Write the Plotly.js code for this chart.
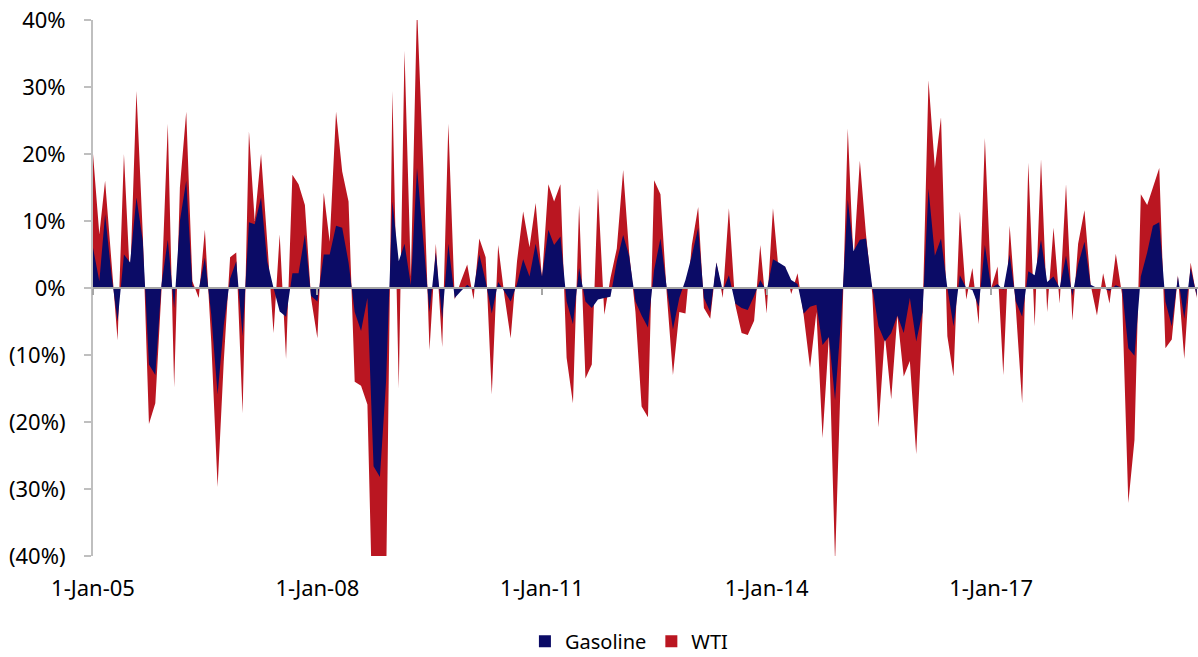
<!DOCTYPE html>
<html>
<head>
<meta charset="utf-8">
<script src="https://cdn.plot.ly/plotly-3.0.1.min.js"></script>
<style>html,body{margin:0;padding:0;background:#fff;}#chart{width:1198px;height:657px;}</style>
</head>
<body>
<div id="chart"></div>
<script>
// Monthly % change, starting Jan 2005
const startYear = 2005;
const wti = [
  20, 8, 16, 4, -7.8, 20, 1, 29.4, 8, -20.3, -17.2, -0.5,
  24.5, -14.8, 15, 26.3, 1, -1.5, 8.7, -8, -29.7, -11, 4.6, 5.3,
  -18.7, 23.4, 10, 20, 7, -6.7, 8, -10.6, 16.9, 15.5, 12.4, -1.5,
  -7.5, 14.2, 6.9, 26.3, 17.4, 12.9, -14, -14.6, -17.4, -55, -50, -45,
  29.4, -15, 35.4, 1.7, 42, 18, -9.3, 6.6, -8.8, 24.5, -1.7, 1,
  3.5, -1.7, 7.4, 4.6, -15.9, 6.4, -1, -7.5, 4, 11.4, 6.1, 12.7,
  1.4, 15.5, 12.9, 15.5, -10.4, -17.2, 12.4, -13.5, -11.4, 14.8, -4, 1.5,
  5.9, 17.6, 5.3, -3.6, -17.7, -19.3, 16.1, 14, -1, -13, -3.6, -3.8,
  6.4, 12.1, -3, -4.6, 3.8, -1.5, 11.9, -2.5, -6.7, -7, -4.9, 6.4,
  -3.8, 11.9, 2.5, 3.2, -0.9, 2.2, -4.1, -11.9, -3.6, -22.4, -7.2, -41,
  -10, 23.8, 4, 19, 8, -1, -20.8, -7, -16.6, -4.1, -13.2, -10.9,
  -24.8, -4.1, 31, 17.9, 25.5, -7.2, -13.2, 11.4, -1.7, 3, -5.4, 22.4,
  0, 3.2, -13, 9.3, -3, -17.2, 18.7, -5.7, 19.2, -3.6, 9, -2.3,
  15.5, -4.9, 6.6, 11.6, 0.5, -4.1, 2.2, -2.3, 5.1, -0.9, -32.1, -22.7,
  14, 12.4, 15, 17.9, -9, -7.7, 1.9, -10.6, 3.8, -1.5
];
const gasoline = [
  6, 1, 11, 2, -5, 5, 3.8, 13.5, 7, -11.4, -13, 0.5,
  7.2, -3, 10, 16, 0.3, -0.2, 4.5, -4, -15.9, -5.6, 1.4, 4,
  -7.2, 9.8, 9.5, 13.5, 4, 0, -3.5, -4.3, 2.2, 2.2, 8, -1.2,
  -2, 5, 5, 9.3, 9, 3.8, -3.6, -6.4, -1.5, -26.6, -28.2, -14,
  12.9, 4, 6.6, 0.4, 17.9, 7, -3.6, 5.3, -4.6, 6.6, -1.5, -0.5,
  0.5, -0.3, 5, 1, -3.8, 0.9, -0.5, -2, 0.6, 4.3, 1.7, 6.6,
  1.7, 8.7, 6.4, 7.7, -2, -5.4, 3, -2, -3, -1.7, -1.5, -1.3,
  4, 7.9, 4.8, -2, -4.1, -5.9, 2.7, 7.4, 0, -6.2, -1.5, 1.2,
  4.8, 9, -1.5, -3.6, 3.8, -0.4, 1.9, -2.3, -3, -3.3, -1.2, 1.2,
  -0.5, 4.3, 3.8, 3.2, 1.2, 0.6, -3.8, -2.8, -2.5, -8.5, -7.3, -16.7,
  -4, 13.2, 5.5, 7.2, 7.4, 0, -5.7, -8, -6.7, -4.1, -6.7, -1.5,
  -8, -3.6, 14.8, 4.8, 7.4, 0, -5.7, 1.9, 0, -0.3, -2.8, 6.4,
  0, 0.6, -0.3, 5, -2, -4.3, 2.5, 1.9, 7.2, 0.9, 1.7, 0,
  4.8, -1.2, 3.5, 6.9, 0.5, 0, 0, -0.4, 0.4, 0, -9, -10.1,
  1.7, 5.3, 9.3, 9.8, -2, -5.7, 1.7, -4.6, 3, -1.2
];
const seriesNames = ['Gasoline', 'WTI'];
const tickDates = ['2005-01-01', '2008-01-01', '2011-01-01', '2014-01-01', '2017-01-01'];
const tickLabels = ['1-Jan-05', '1-Jan-08', '1-Jan-11', '1-Jan-14', '1-Jan-17'];
const yTickVals = [-40, -30, -20, -10, 0, 10, 20, 30, 40];
const yTickLabels = ['(40%)', '(30%)', '(20%)', '(10%)', '0%', '10%', '20%', '30%', '40%'];

function monthDates(n) {
  const out = [];
  for (let i = 0; i < n; i++) {
    const y = startYear + Math.floor(i / 12);
    const m = (i % 12) + 1;
    out.push(y + '-' + (m < 10 ? '0' + m : m) + '-01');
  }
  return out;
}
const dates = monthDates(wti.length);

const RED = '#BA1621';
const NAVY = '#0B0B66';
const TICKFONT = {family: 'Noto Sans, Open Sans, sans-serif', size: 22, color: '#000000'};
const LEGFONT = {family: 'Noto Sans, Open Sans, sans-serif', size: 20, color: '#000000'};

const traces = [
  {x: dates, y: wti, name: seriesNames[1], type: 'scatter', mode: 'none', fill: 'tozeroy',
   fillcolor: RED, xaxis: 'x', yaxis: 'y', showlegend: false},
  {x: dates, y: gasoline, name: seriesNames[0], type: 'scatter', mode: 'none', fill: 'tozeroy',
   fillcolor: NAVY, xaxis: 'x2', yaxis: 'y', showlegend: false},
  // legend swatches only (null value: nothing is drawn in the plot)
  {x: [dates[0]], y: [null], name: seriesNames[0], type: 'bar', marker: {color: NAVY}, showlegend: true},
  {x: [dates[0]], y: [null], name: seriesNames[1], type: 'bar', marker: {color: RED}, showlegend: true}
];

const xr = ['2005-01-01', '2019-10-07'];
const layout = {
  width: 1198, height: 657,
  margin: {l: 93, r: 0, t: 20, b: 101},
  paper_bgcolor: '#ffffff', plot_bgcolor: '#ffffff',
  font: TICKFONT,
  showlegend: true,
  legend: {orientation: 'h', xref: 'paper', yref: 'container', x: 0.485, xanchor: 'center',
           y: 0.024, yanchor: 'middle', traceorder: 'normal', font: LEGFONT, itemwidth: 30,
           tracegroupgap: 0},
  xaxis: {type: 'date', range: xr, tickmode: 'array', tickvals: tickDates, ticktext: tickLabels,
          showline: false, ticks: '', showgrid: false, zeroline: false,
          ticklabelstandoff: 17, tickfont: TICKFONT},
  xaxis2: {type: 'date', range: xr, matches: 'x', overlaying: 'x', anchor: 'free', position: 0.5,
           showline: true, linecolor: '#A6A6A6', linewidth: 2,
           ticks: 'outside', ticklen: 6, tickwidth: 2, tickcolor: '#A6A6A6',
           tickmode: 'array', tickvals: tickDates, showticklabels: false,
           showgrid: false, zeroline: false},
  yaxis: {range: [-40, 40], tickmode: 'array', tickvals: yTickVals, ticktext: yTickLabels,
          showline: true, linecolor: '#BFBFBF', linewidth: 2, ticks: 'outside', ticklen: 7,
          tickwidth: 2, tickcolor: '#BFBFBF', showgrid: false, zeroline: false,
          tickfont: TICKFONT, ticklabelstandoff: 14}
};

Plotly.newPlot('chart', traces, layout, {displayModeBar: false, staticPlot: true});
</script>
</body>
</html>
